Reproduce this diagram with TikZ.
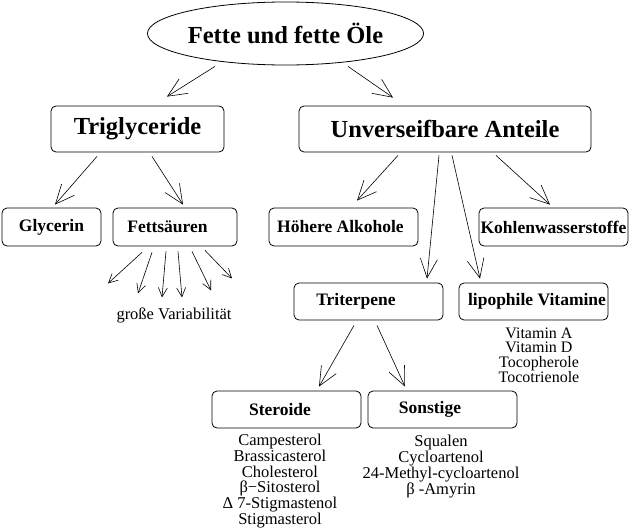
\documentclass[tikz,border=0pt]{standalone}
\usepackage{fontspec}
\setmainfont{Liberation Serif}
\usetikzlibrary{shapes.geometric,arrows.meta}
\lineskiplimit=-100pt
\tikzset{
  box/.style={draw, rounded corners=5pt, line width=0.8pt, inner sep=0pt,
    font=\fontsize{17.5}{20}\selectfont\bfseries, minimum width=149pt, minimum height=37pt},
  bigbox/.style={box, font=\fontsize{24.5}{28}\selectfont\bfseries, minimum height=46pt},
  listtext/.style={align=center, inner sep=0pt},
  arr/.style={line width=0.6pt, -{Straight Barb[length=19pt,width=17pt,line width=0.6pt]}},
  smallarr/.style={line width=0.6pt, -{Straight Barb[length=9pt,width=9pt,line width=0.6pt]}}
}
\begin{document}
\begin{tikzpicture}[x=1pt,y=-1pt]
\useasboundingbox (0,0) rectangle (630,530);
\node[draw, ellipse, line width=0.8pt, inner sep=0pt, minimum width=243pt, minimum height=63pt,
  font=\fontsize{24.5}{28}\selectfont\bfseries] (ell) at (285.5,33.5) {Fette und fette Öle};
\node[bigbox, minimum width=173pt] (tri) at (137.5,129) {Triglyceride};
\node[bigbox, minimum width=292pt] (unv) at (445,129) {Unverseifbare Anteile};
\node[box, minimum width=99pt, minimum height=38pt] (gly) at (51.5,227) {Glycerin};
\node[box, minimum width=124pt, minimum height=38pt] (fett) at (175,227) {Fettsäuren\hspace*{15pt}};
\node[box, minimum height=38pt] (alk) at (343.5,227) {Höhere Alkohole\hspace*{6pt}};
\node[box, minimum height=38pt] (kw) at (553.5,227) {Kohlenwasserstoffe};
\node[box] (tri2) at (368.5,301.5) {Triterpene\hspace*{25pt}};
\node[box] (lip) at (533.5,301.5) {\hspace*{7pt}lipophile Vitamine};
\node[box] (ster) at (286.5,409.5) {Steroide\hspace*{13pt}};
\node[box] (son) at (442.5,409.5) {Sonstige\hspace*{25pt}};

\node[listtext, font=\fontsize{16.5}{18}\selectfont] (var) at (174,315) {große Variabilität};
\node[listtext, font=\fontsize{16}{14.7}\selectfont] (vit) at (539,355) {Vitamin A\\Vitamin D\\Tocopherole\\Tocotrienole};
\node[listtext, font=\fontsize{16.5}{15.8}\selectfont] (sterl) at (280,481) {Campesterol\\Brassicasterol\\Cholesterol\\β−Sitosterol\\Δ 7-Stigmastenol\\Stigmasterol};
\node[listtext, font=\fontsize{16.5}{15.8}\selectfont] (sonl) at (441,466.5) {Squalen\\Cycloartenol\\24-Methyl-cycloartenol\\β -Amyrin};

\draw[arr] ([xshift=-70.5pt,yshift=-1pt]ell.south) -- ([xshift=29.5pt,yshift=9pt]tri.north);
\draw[arr] ([xshift=62.5pt,yshift=-1pt]ell.south) -- ([xshift=-52pt,yshift=8pt]unv.north);
\draw[arr] ([xshift=-40.5pt,yshift=-4pt]tri.south) -- ([xshift=3.5pt,yshift=3pt]gly.north);
\draw[arr] ([xshift=14.5pt,yshift=-4pt]tri.south) -- ([xshift=8pt,yshift=3pt]fett.north);
\draw[arr] ([xshift=-47pt,yshift=-3pt]unv.south) -- ([xshift=13.5pt,yshift=7pt]alk.north);
\draw[arr] ([xshift=-6pt,yshift=-3pt]unv.south) -- ([xshift=58.5pt,yshift=4pt]tri2.north);
\draw[arr] ([xshift=7pt,yshift=-3pt]unv.south) -- ([xshift=-53.5pt,yshift=4pt]lip.north);
\draw[arr] ([xshift=51pt,yshift=-3pt]unv.south) -- ([xshift=-3.5pt,yshift=3pt]kw.north);
\draw[arr] ([xshift=-14.5pt,yshift=-5pt]tri2.south) -- ([xshift=32.5pt,yshift=4pt]ster.north);
\draw[arr] ([xshift=8.5pt,yshift=-5pt]tri2.south) -- ([xshift=-37.5pt,yshift=4pt]son.north);

\draw[smallarr] ([xshift=-33pt,yshift=-6pt]fett.south) -- ([xshift=-67pt,yshift=-37pt]fett.south);
\draw[smallarr] ([xshift=-23pt,yshift=-6pt]fett.south) -- ([xshift=-37pt,yshift=-47pt]fett.south);
\draw[smallarr] ([xshift=-9pt,yshift=-5pt]fett.south) -- ([xshift=-13pt,yshift=-51pt]fett.south);
\draw[smallarr] ([xshift=3pt,yshift=-5pt]fett.south) -- ([xshift=7pt,yshift=-51pt]fett.south);
\draw[smallarr] ([xshift=17pt,yshift=-5pt]fett.south) -- ([xshift=36pt,yshift=-44pt]fett.south);
\draw[smallarr] ([xshift=30pt,yshift=-4pt]fett.south) -- ([xshift=57pt,yshift=-32pt]fett.south);
\end{tikzpicture}
\end{document}
